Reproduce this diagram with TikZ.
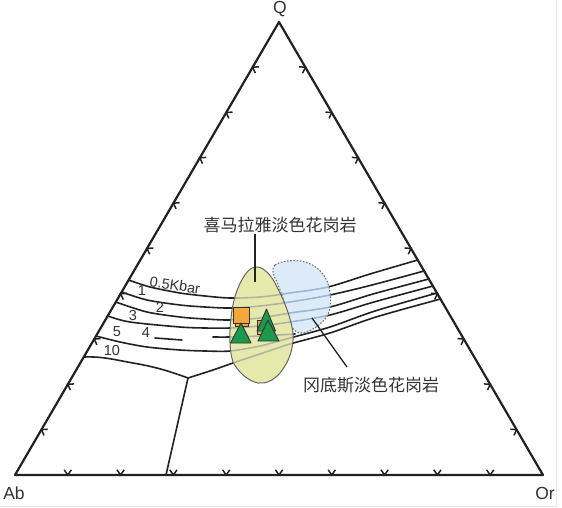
\documentclass[tikz,border=0pt]{standalone}
\usepackage{fontspec}
\setmainfont{Liberation Sans}
\newfontfamily\cjk{Noto Sans CJK SC}
\usetikzlibrary{calc}
\definecolor{inkc}{HTML}{222222}
\definecolor{yellowfill}{HTML}{E6E8AC}
\definecolor{bluefill}{HTML}{DCEBF7}
\definecolor{yline}{HTML}{B0B5A2}
\definecolor{bline}{HTML}{98B9D6}
\definecolor{sqfill}{HTML}{F5A63C}
\definecolor{trifill}{HTML}{1C9A4C}
\definecolor{edgec}{HTML}{333333}
\definecolor{txtc}{HTML}{333333}
\tikzset{
  sideline/.style={draw=inkc, line width=2.2pt, line join=round},
  tickline/.style={draw=inkc, line width=1.5pt},
  isoline/.style={draw=inkc, line width=1.6pt, line cap=round},
  chev/.pic={\draw[tickline] (-3.6,-5.2) -- (0,0) -- (3.6,-5.2);},
  cornerlabel/.style={font=\fontsize{17.5}{17.5}\selectfont, text=txtc, inner sep=0pt},
  isolabel/.style={font=\fontsize{14.5}{14.5}\selectfont, text=txtc, inner sep=0pt},
  cjklabel/.style={font=\cjk\fontsize{17}{17}\selectfont, text=txtc, inner sep=1pt},
  leader/.style={draw=inkc, line width=1.3pt},
  sqmark/.style={fill=sqfill, draw=edgec, line width=0.9pt},
  trimark/.style={fill=trifill, draw=edgec, line width=0.9pt, line join=round},
}
\begin{document}
\begin{tikzpicture}[x=1pt,y=-1pt]
\useasboundingbox (0,0) rectangle (562,508);
\fill[white] (0,0) rectangle (562,508);
\draw[color=black!10, line width=0.6pt] (556,0) -- (556,506) -- (0,506);

% corners
\coordinate (Ab) at (15,475);
\coordinate (Or) at (543,475);
\coordinate (Q) at (279,22);

% isobar definitions
\def\isoA{plot[smooth] coordinates {(128.6,280) (150,287) (180,293) (205,296) (230,298) (260,297) (290,293) (328,287) (370,274) (417.7,260)}}
\def\isoB{plot[smooth] coordinates {(121.6,292) (147,300) (180,305) (205,307) (230,308) (260,306) (290,302) (330,295) (372,285) (424.1,271)}}
\def\isoC{plot[smooth] coordinates {(115.8,302) (147,312) (180,317) (205,319) (230,320) (260,318) (290,313) (330,307) (373,294) (428.8,279)}}
\def\isoD{plot[smooth] coordinates {(107.7,316) (130,322) (180,327) (205,328) (230,328) (260,326) (290,322) (330,315) (374,302) (432.9,286)}}
\def\isoE{plot[smooth] coordinates {(213,337) (230,337) (260,336) (295,334)}}
\def\isoF{plot[smooth] coordinates {(96.0,336) (120,342) (147,347) (180,350) (205,351) (230,351) (260,346) (290,338) (330,327) (375,311) (436.9,293)}}
\def\isoG{plot[smooth] coordinates {(188,378) (213,370) (233,363) (260,354) (290,344) (330,333) (376,317) (440.4,299)}}

% black isobars
\draw[isoline] \isoA;
\draw[isoline] \isoB;
\draw[isoline] \isoC;
\draw[isoline] \isoD;
\draw[isoline] \isoE;
\draw[isoline] (155,338) -- (182,340);
\draw[isoline] \isoF;
\draw[isoline] \isoG;
\coordinate (jn) at (188,378);
\coordinate (basept) at (166,475);
\draw[isoline, line join=round] (83.8,357) to[out=2,in=170] (133,363) to[out=-10,in=160] (jn);
\draw[isoline] (jn) -- (basept);

% isobar labels
\node[isolabel, rotate=-9] (l05) at (175,285) {0.5Kbar};
\node[isolabel] (l1) at (142,291) {1};
\node[isolabel] (l2) at (160,307) {2};
\node[isolabel] (l3) at (133,316) {3};
\node[isolabel] (l4) at (146,333) {4};
\node[isolabel] (l5) at (117,332) {5};
\node[isolabel] (l10) at (112,351) {10};

% Gangdese field (blue)
\def\bluepoly{(275,265) .. controls (280,261) and (296,259) .. (305,262) .. controls (316,265) and (326,274) .. (329,287) .. controls (332,300) and (331,312) .. (325,319) .. controls (318,327) and (307,334) .. (299,333) .. controls (292,331) and (289,322) .. (287,313) .. controls (284,300) and (279,286) .. (275,278) .. controls (272,272) and (272,268) .. (275,265) -- cycle}
\fill[bluefill] \bluepoly;
\begin{scope}
  \clip \bluepoly;
  \draw[isoline, draw=bline] \isoA;
  \draw[isoline, draw=bline] \isoB;
  \draw[isoline, draw=bline] \isoC;
  \draw[isoline, draw=bline] \isoD;
  \draw[isoline, draw=bline] \isoE;
  \draw[isoline, draw=bline] \isoF;
  \draw[isoline, draw=bline] \isoG;
\end{scope}
\draw[draw=black!55, line width=1.1pt, dash pattern=on 1.6pt off 1.6pt] \bluepoly;

% Himalayan field (yellow)
\def\yellowpoly{(257,267) .. controls (264,267) and (272,276) .. (277,287) .. controls (284,300) and (291,318) .. (293,333) .. controls (294,348) and (289,362) .. (280,373) .. controls (273,381) and (265,384) .. (258,383) .. controls (248,381) and (238,372) .. (233,362) .. controls (229,350) and (229,330) .. (232,310) .. controls (235,292) and (241,279) .. (248,271) .. controls (251,268) and (254,267) .. (257,267) -- cycle}
\fill[yellowfill] \yellowpoly;
\begin{scope}
  \clip \yellowpoly;
  \draw[isoline, draw=yline] \isoA;
  \draw[isoline, draw=yline] \isoB;
  \draw[isoline, draw=yline] \isoC;
  \draw[isoline, draw=yline] \isoD;
  \draw[isoline, draw=yline] \isoE;
  \draw[isoline, draw=yline] \isoF;
  \draw[isoline, draw=yline] \isoG;
\end{scope}
\draw[draw=black!60, line width=1pt] \yellowpoly;

% triangle
\draw[sideline] (Ab) -- (Q) -- (Or) -- cycle;
\foreach \k in {1,...,9} {
  \pic[rotate=0] at ($(Ab)!\k/10!(Or)$) {chev};
  \pic[rotate=-120] at ($(Ab)!\k/10!(Q)$) {chev};
  \pic[rotate=120] at ($(Q)!\k/10!(Or)$) {chev};
}

% samples
\draw[sqmark] (235,310) rectangle (248,326);
\draw[sqmark] (233,307) rectangle (249,323);
\draw[trimark] (241,323) -- (251,343) -- (230.5,343) -- cycle;
\draw[sqmark] (257,320) rectangle (270,334);
\draw[trimark] (266.5,309) -- (275.5,331) -- (257,331) -- cycle;
\draw[trimark] (268,320) -- (279,341) -- (258,341) -- cycle;

% corner labels
\node[cornerlabel] (nQ) at (280,9) {Q};
\node[cornerlabel] (nAb) at (14,493) {Ab};
\node[cornerlabel] (nOr) at (545,493) {Or};

% field labels and leaders
\node[cjklabel] (him) at (280,225) {喜马拉雅淡色花岗岩};
\node[cjklabel] (gds) at (371,385) {冈底斯淡色花岗岩};
\coordinate (hl) at (255,282);
\coordinate (gl) at (312,318);
\coordinate (gl2) at (347,367);
\draw[leader] (him.south -| hl) -- (hl);
\draw[leader] (gl) -- (gl2);
\end{tikzpicture}
\end{document}
